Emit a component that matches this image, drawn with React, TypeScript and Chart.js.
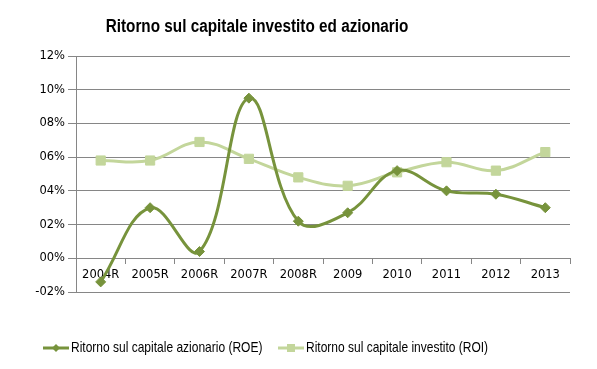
import React, { useEffect, useRef } from 'react';
import { Chart, registerables } from 'chart.js';

Chart.register(...registerables);

const categories = ['2004R', '2005R', '2006R', '2007R', '2008R', '2009', '2010', '2011', '2012', '2013'];
const roeValues = [-1.4, 3.0, 0.4, 9.5, 2.2, 2.7, 5.2, 4.0, 3.8, 3.0];
const roiValues = [5.8, 5.8, 6.9, 5.9, 4.8, 4.3, 5.1, 5.7, 5.2, 6.3];
const yMin = -2;
const yMax = 12;
const yStep = 2;

const titleText = 'Ritorno sul capitale investito ed azionario';
const roeLabel = 'Ritorno sul capitale azionario (ROE)';
const roiLabel = 'Ritorno sul capitale investito (ROI)';

const ROE_COLOR = '#77933C';
const ROI_COLOR = '#C3D69B';
const GRID = '#868686';
const TICK_FONT = { family: '"DejaVu Sans", Verdana, sans-serif', size: 11.5 };
const SANS = '"Liberation Sans", Arial, sans-serif';

const fmtPct = (v: number) => (v < 0 ? '-' : '') + String(Math.abs(v)).padStart(2, '0') + '%';

function narrowText(ctx: CanvasRenderingContext2D, text: string, x: number, y: number, sx: number) {
  ctx.save();
  ctx.translate(x, y);
  ctx.scale(sx, 1);
  ctx.fillText(text, 0, 0);
  ctx.restore();
}

const overlayPlugin = {
  id: 'overlay',
  afterDraw(chart: any) {
    const ctx = chart.ctx as CanvasRenderingContext2D;
    ctx.save();
    ctx.fillStyle = '#000';
    ctx.font = `bold 18px ${SANS}`;
    ctx.textAlign = 'center';
    ctx.textBaseline = 'alphabetic';
    narrowText(ctx, titleText, 257, 32, 0.85);

    const starts = [43, 278];
    const ly = 348;
    chart.data.datasets.forEach((ds: any, i: number) => {
      const x0 = starts[i];
      ctx.strokeStyle = ds.borderColor;
      ctx.lineWidth = 3;
      ctx.beginPath();
      ctx.moveTo(x0, ly);
      ctx.lineTo(x0 + 26, ly);
      ctx.stroke();
      ctx.fillStyle = ds.backgroundColor;
      const cx = x0 + 13;
      ctx.beginPath();
      if (ds.pointStyle === 'rectRot') {
        ctx.moveTo(cx, ly - 4);
        ctx.lineTo(cx + 4, ly);
        ctx.lineTo(cx, ly + 4);
        ctx.lineTo(cx - 4, ly);
        ctx.closePath();
      } else {
        ctx.rect(cx - 4, ly - 4, 8, 8);
      }
      ctx.fill();
      ctx.fillStyle = '#000';
      ctx.font = `15px ${SANS}`;
      ctx.textAlign = 'left';
      ctx.textBaseline = 'middle';
      narrowText(ctx, ds.label, x0 + 28, ly, 0.8);
    });
    ctx.restore();
  },
};

export default function App() {
  const ref = useRef<HTMLCanvasElement | null>(null);

  useEffect(() => {
    document.body.style.margin = '0';
    const canvas = ref.current!;
    const chart = new Chart(canvas, {
      type: 'line',
      data: {
        labels: categories,
        datasets: [
          {
            label: roeLabel,
            data: roeValues,
            borderColor: ROE_COLOR,
            backgroundColor: ROE_COLOR,
            borderWidth: 3,
            pointStyle: 'rectRot',
            pointRadius: 5,
            pointBorderWidth: 1,
            tension: 0.4,
            fill: false,
          },
          {
            label: roiLabel,
            data: roiValues,
            borderColor: ROI_COLOR,
            backgroundColor: ROI_COLOR,
            borderWidth: 3,
            pointStyle: 'rect',
            pointRadius: 6.5,
            pointBorderWidth: 1,
            tension: 0.4,
            fill: false,
          },
        ],
      },
      options: {
        responsive: false,
        animation: false,
        devicePixelRatio: 1,
        layout: { padding: { top: 56, right: 27, bottom: 77, left: 0 } },
        plugins: {
          legend: { display: false },
          title: { display: false },
          tooltip: { enabled: false },
        },
        scales: {
          x: {
            type: 'category',
            position: { y: 0 } as any,
            offset: true,
            grid: { offset: true, drawOnChartArea: false, tickLength: 5, color: GRID },
            border: { display: true, color: GRID },
            ticks: { font: TICK_FONT, color: '#000', padding: 5, maxRotation: 0, autoSkip: false },
          },
          y: {
            min: yMin,
            max: yMax,
            afterFit: (s: any) => { s.width = 76; },
            grid: { color: GRID, tickLength: 8 },
            border: { display: true, color: GRID },
            ticks: { stepSize: yStep, font: TICK_FONT, color: '#000', padding: 3, callback: (v: any) => fmtPct(Number(v)) },
          },
        },
      },
      plugins: [overlayPlugin],
    });
    return () => chart.destroy();
  }, []);

  return (
    <div style={{ position: 'absolute', left: 0, top: 0 }}>
      <canvas ref={ref} width={597} height={369} />
    </div>
  );
}
